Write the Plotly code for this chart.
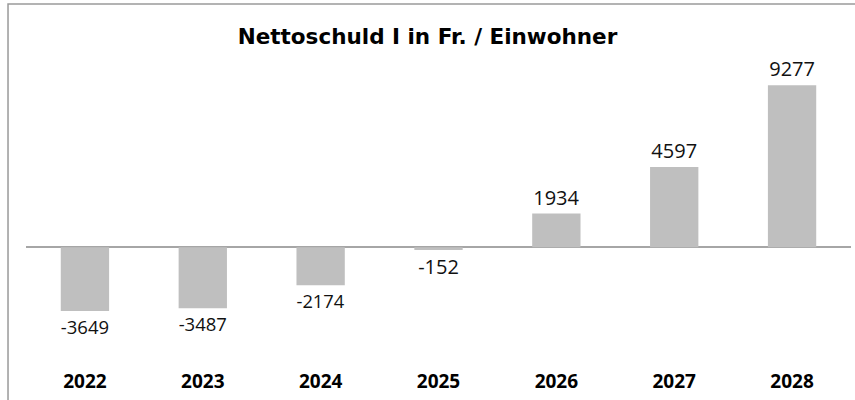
import plotly.graph_objects as go

years = ["2022", "2023", "2024", "2025", "2026", "2027", "2028"]
values = [-3649, -3487, -2174, -152, 1934, 4597, 9277]
title_text = "Nettoschuld I in Fr. / Einwohner"

FONT = "Open Sans"
BAR_COLOR = "#bfbfbf"

fig = go.Figure()
fig.add_trace(go.Bar(
    x=years, y=values,
    marker=dict(color=BAR_COLOR, line=dict(width=0)),
    text=[str(v) for v in values], textposition="outside",
    textfont=dict(family=FONT, size=20, color="#111111"),
    cliponaxis=False,
))

# chart frame (left and top edges visible in the reference)
fig.add_shape(type="rect", xref="paper", yref="paper",
              x0=-0.0218, x1=1.2, y0=-0.3, y1=1.1818,
              line=dict(color="#9a9a9a", width=1.5), fillcolor="rgba(0,0,0,0)",
              layer="below")

fig.update_layout(
    width=855, height=400,
    margin=dict(l=26, r=4, t=60, b=32),
    paper_bgcolor="white", plot_bgcolor="white",
    bargap=0.59,
    showlegend=False,
    title=dict(text="<b>" + title_text + "</b>", x=0.5, xanchor="center",
               y=1 - 36 / 400, yanchor="middle",
               font=dict(family="DejaVu Sans", size=21.5, color="#000000")),
    xaxis=dict(type="category", showgrid=False, showline=False, ticks="",
               tickmode="array", tickvals=years,
               ticktext=["<b>" + y + "</b>" for y in years],
               tickfont=dict(family=FONT, size=19, color="#000000"),
               zeroline=False),
    yaxis=dict(range=[-6908, 10722], showgrid=False, showticklabels=False,
               zeroline=True, zerolinecolor="#a6a6a6", zerolinewidth=1.5,
               showline=False, ticks=""),
)

fig.write_html("out.html", config={"displayModeBar": False},
               post_script="document.body.style.margin='0px';document.body.style.padding='0px';")
